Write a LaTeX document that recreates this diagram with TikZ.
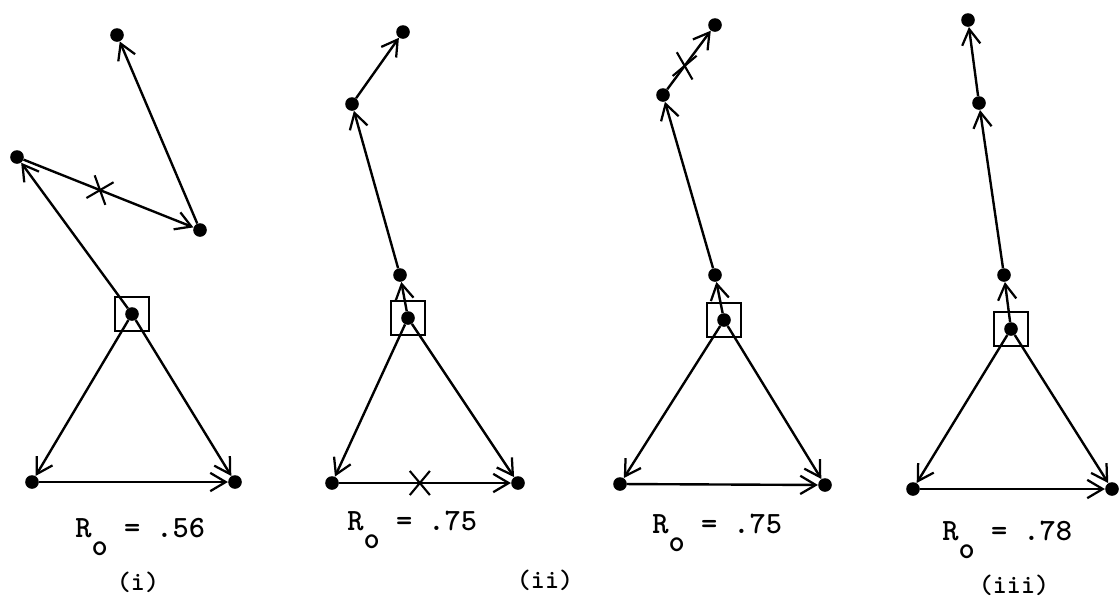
\documentclass[tikz,border=0pt]{standalone}
\usepackage{fontspec}
\usetikzlibrary{arrows.meta,shapes.misc}
\tikzset{
  v/.style={circle,fill=black,inner sep=0pt,minimum size=0.34cm},
  edge/.style={draw=black,line width=1.7pt,-{Straight Barb[length=11pt,width=13pt,line width=1.6pt]}},
  frame/.style={draw=black,line width=1.5pt,minimum size=0.85cm,inner sep=0pt},
  cut/.style={cross out,draw=black,line width=1.5pt,minimum width=0.45cm,minimum height=0.55cm,inner sep=0pt},
}
\tikzset{val/.style={font=\ttfamily\bfseries\fontsize{22}{26}\selectfont,anchor=base west,inner sep=0pt},
  tag/.style={font=\ttfamily\bfseries\fontsize{19}{22}\selectfont,inner sep=0pt}}

\begin{document}
\begin{tikzpicture}[x=0.025cm,y=-0.025cm]
\useasboundingbox (0,0) rectangle (1119,608);
% (i)
\node[v] (ir) at (132,314) {};
\node[frame] at (ir) {};
\node[v] (ia) at (17,157) {};
\node[v] (ib) at (200,230) {};
\node[v] (ic) at (117,35) {};
\node[v] (il) at (32,482) {};
\node[v] (iq) at (235,482) {};
\draw[edge] (ir)--(ia);
\draw[edge] (ia)--(ib);
\draw[edge] (ib)--(ic);
\draw[edge] (ir)--(il);
\draw[edge] (ir)--(iq);
\draw[edge] (il)--(iq);
\path (ia)--(ib) node[cut,pos=0.45,rotate=-20] {};
\node[val] at (75,537) {R\raisebox{-13pt}{o} = .56};
\node[tag] at (138,582) {(i)};
% (ii)
\node[v] (jr) at (408,318) {};
\node[frame] at (jr) {};
\node[v] (ja) at (400,275) {};
\node[v] (jb) at (352,104) {};
\node[v] (jc) at (403,32) {};
\node[v] (jl) at (332,483) {};
\node[v] (jq) at (518,483) {};
\draw[edge] (jr)--(ja);
\draw[edge] (ja)--(jb);
\draw[edge] (jb)--(jc);
\draw[edge] (jr)--(jl);
\draw[edge] (jr)--(jq);
\draw[edge] (jl)--(jq);
\path (jl)--(jq) node[cut,pos=0.47] {};
\node[val] at (347,530) {R\raisebox{-13pt}{o} = .75};
\node[tag] at (545,580) {(ii)};
% (ii), second
\node[v] (kr) at (724,320) {};
\node[frame] at (kr) {};
\node[v] (ka) at (715,275) {};
\node[v] (kb) at (663,95) {};
\node[v] (kc) at (715,25) {};
\node[v] (kl) at (620,484) {};
\node[v] (kq) at (825,485) {};
\draw[edge] (kr)--(ka);
\draw[edge] (ka)--(kb);
\draw[edge] (kb)--(kc);
\draw[edge] (kr)--(kl);
\draw[edge] (kr)--(kq);
\draw[edge] (kl)--(kq);
\path (kb)--(kc) node[cut,pos=0.4,rotate=-10] {};
\node[val] at (652,533) {R\raisebox{-13pt}{o} = .75};
% (iii)
\node[v] (lr) at (1011,329) {};
\node[frame] at (lr) {};
\node[v] (la) at (1004,275) {};
\node[v] (lb) at (979,103) {};
\node[v] (lc) at (968,20) {};
\node[v] (ll) at (913,489) {};
\node[v] (lq) at (1112,489) {};
\draw[edge] (lr)--(la);
\draw[edge] (la)--(lb);
\draw[edge] (lb)--(lc);
\draw[edge] (lr)--(ll);
\draw[edge] (lr)--(lq);
\draw[edge] (ll)--(lq);
\node[val] at (942,540) {R\raisebox{-13pt}{o} = .78};
\node[tag] at (1014,585) {(iii)};
\end{tikzpicture}
\end{document}
